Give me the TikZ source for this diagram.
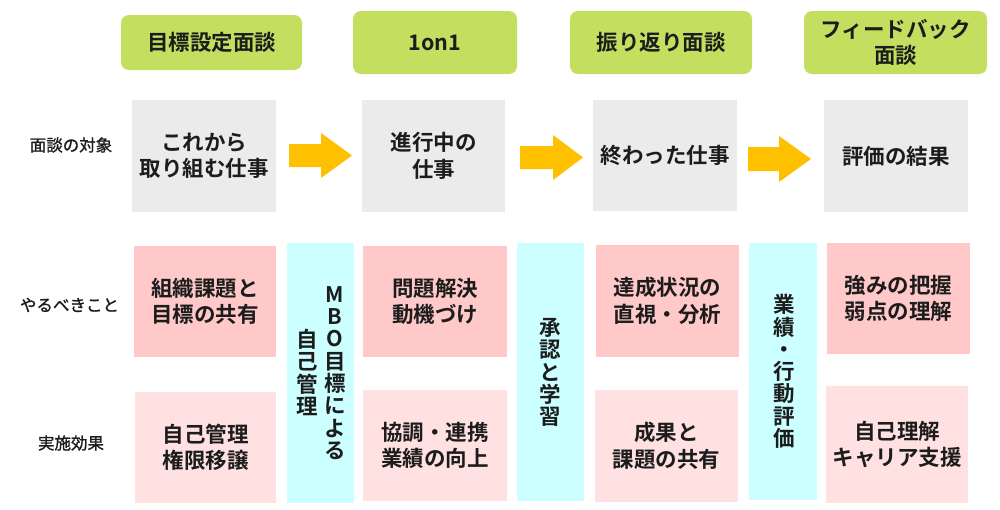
\documentclass[tikz,border=0pt]{standalone}
\usepackage{fontspec}
\setmainfont{Noto Sans CJK JP}[BoldFont={Noto Sans CJK JP Bold}]
\newfontfamily\jpmed{Noto Sans CJK JP}[FakeBold=1.3]
\definecolor{hdr}{HTML}{C4DF60}
\definecolor{grayb}{HTML}{EBEBEB}
\definecolor{pinkd}{HTML}{FFC9C9}
\definecolor{pinkl}{HTML}{FFE1E2}
\definecolor{cyanb}{HTML}{CCFFFF}
\definecolor{arr}{HTML}{FFC000}
\definecolor{txt}{HTML}{1C1C1C}
\begin{document}
\begin{tikzpicture}[x=1pt,y=-1pt,
  cell/.style={draw=none, inner sep=0pt, align=center, text=txt,
    font=\bfseries\fontsize{21.5}{26.5}\selectfont},
  hbox/.style={cell, fill=hdr, rounded corners=8pt},
  gbox/.style={cell, fill=grayb},
  pbox/.style={cell, fill=pinkd},
  lbox/.style={cell, fill=pinkl},
  cbar/.style={cell, fill=cyanb},
  vtext/.style={inner sep=0pt, align=center, text=txt,
    font=\bfseries\fontsize{21.5}{22.3}\selectfont},
  rowlab/.style={inner sep=0pt, text=txt, font=\jpmed\fontsize{16.5}{20}\selectfont},
  blockarrow/.style={fill=arr, draw=none}]
\useasboundingbox (0,0) rectangle (1000,509);
% headers
\node[hbox, minimum width=181, minimum height=55] (h1) at (211.5,42.5) {目標設定面談};
\node[hbox, minimum width=164, minimum height=63] (h2) at (435,42.5) {1on1};
\node[hbox, minimum width=182, minimum height=63] (h3) at (661,42.5) {振り返り面談};
\node[hbox, minimum width=183, minimum height=63] (h4) at (895.5,42.5) {フィードバック\\面談};
% row labels
\node[rowlab] (r1) at (71,145) {面談の対象};
\node[rowlab] (r2) at (69.5,305) {やるべきこと};
\node[rowlab] (r3) at (71,443) {実施効果};
% gray row
\node[gbox, minimum width=144, minimum height=112] (g1) at (204,156) {これから\\取り組む仕事};
\node[gbox, minimum width=143, minimum height=112] (g2) at (433.5,156) {進行中の\\仕事};
\node[gbox, minimum width=144, minimum height=111] (g3) at (665,155.5) {終わった仕事};
\node[gbox, minimum width=144, minimum height=112] (g4) at (896,156) {評価の結果};
% arrows
\fill[blockarrow] (289,144) -- (321,144) -- (321,133) -- (352,155.5) -- (321,178) -- (321,167) -- (289,167) -- cycle;
\fill[blockarrow] (520,146) -- (553,146) -- (553,135) -- (583,157.5) -- (553,180) -- (553,169) -- (520,169) -- cycle;
\fill[blockarrow] (748,147) -- (779,147) -- (779,136) -- (811,159) -- (779,182) -- (779,171) -- (748,171) -- cycle;
% pink row
\node[pbox, minimum width=142, minimum height=111] (p1) at (205,301.5) {組織課題と\\目標の共有};
\node[pbox, minimum width=144, minimum height=111] (p2) at (435,301.5) {問題解決\\動機づけ};
\node[pbox, minimum width=143, minimum height=112] (p3) at (667.5,301) {達成状況の\\直視・分析};
\node[pbox, minimum width=143, minimum height=111] (p4) at (898.5,298.5) {強みの把握\\弱点の理解};
% light pink row
\node[lbox, minimum width=141, minimum height=111] (l1) at (205.5,447.5) {自己管理\\権限移譲};
\node[lbox, minimum width=144, minimum height=111] (l2) at (435,445.5) {協調・連携\\業績の向上};
\node[lbox, minimum width=143, minimum height=112] (l3) at (666.5,446) {成果と\\課題の共有};
\node[lbox, minimum width=142, minimum height=117] (l4) at (897,444.5) {自己理解\\キャリア支援};
% cyan bars
\node[cbar, minimum width=67, minimum height=260] (c1) at (320.5,373) {};
\node[cbar, minimum width=67, minimum height=258] (c2) at (550.5,372) {};
\node[cbar, minimum width=68, minimum height=257] (c3) at (783,371.5) {};
\node[vtext] (c1a) at (335,373) {M\\B\\O\\目\\標\\に\\よ\\る};
\node[vtext] (c1b) at (307.5,372.5) {自\\己\\管\\理};
\node[vtext] (c2a) at (550.5,372.5) {承\\認\\と\\学\\習};
\node[vtext] (c3a) at (784,371.5) {業\\績\\・\\行\\動\\評\\価};
\end{tikzpicture}
\end{document}
